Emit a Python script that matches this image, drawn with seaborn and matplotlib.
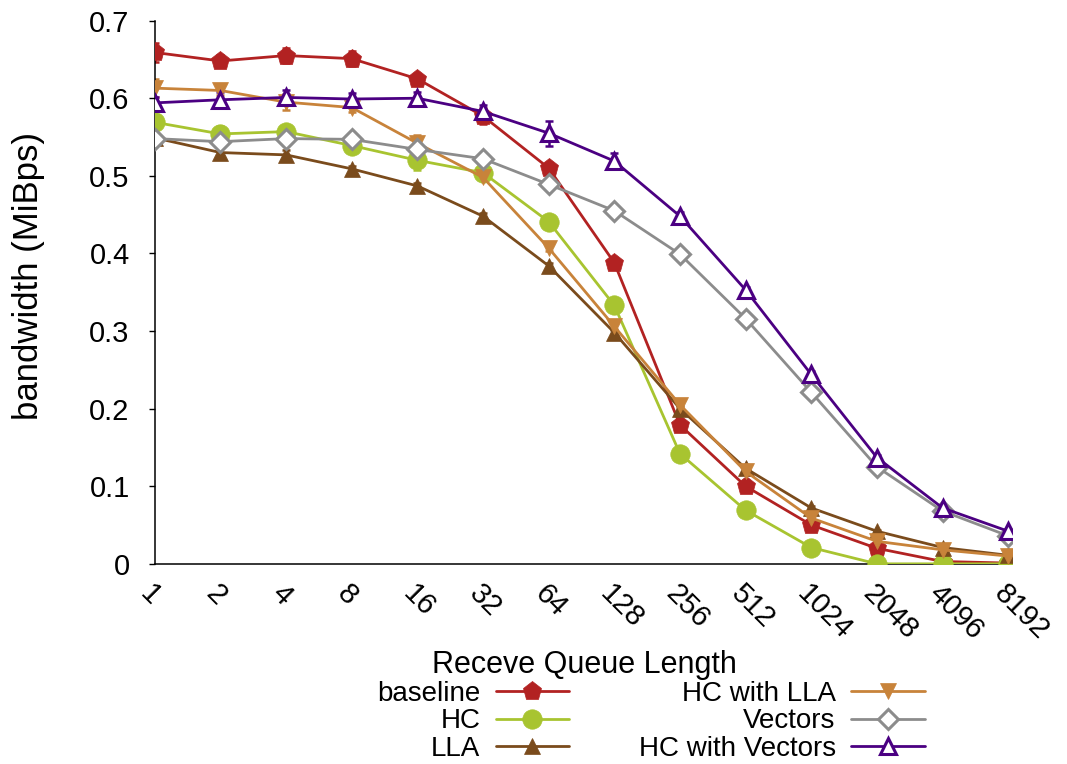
import numpy as np
import pandas as pd
import matplotlib
matplotlib.use("Agg")
import matplotlib.pyplot as plt
import seaborn as sns

# ==========================================
# Data
# ==========================================
queue_labels = ["1", "2", "4", "8", "16", "32", "64", "128",
                "256", "512", "1024", "2048", "4096", "8192"]

baseline = [0.659, 0.648, 0.655, 0.651, 0.625, 0.577, 0.510, 0.388,
            0.179, 0.100, 0.050, 0.020, 0.003, 0.001]
hc = [0.569, 0.554, 0.557, 0.539, 0.520, 0.504, 0.441, 0.333,
      0.142, 0.069, 0.021, 0.000, 0.000, 0.000]
lla = [0.549, 0.530, 0.527, 0.509, 0.487, 0.448, 0.384, 0.298,
       0.200, 0.123, 0.072, 0.042, 0.021, 0.011]
hc_lla = [0.613, 0.610, 0.595, 0.588, 0.542, 0.498, 0.407, 0.306,
          0.205, 0.119, 0.059, 0.029, 0.018, 0.010]
vectors = [0.548, 0.544, 0.548, 0.547, 0.534, 0.522, 0.489, 0.455,
           0.399, 0.316, 0.221, 0.125, 0.068, 0.036]
hc_vectors = [0.594, 0.598, 0.601, 0.599, 0.600, 0.583, 0.555, 0.519,
              0.448, 0.353, 0.244, 0.137, 0.072, 0.042]

# small error bars
baseline_err = [0.012, 0.008, 0.010, 0.010, 0.006, 0.010, 0.006, 0.004,
                0.004, 0.003, 0.002, 0.002, 0.001, 0.001]
hc_err = [0.006, 0.010, 0.008, 0.010, 0.012, 0.004, 0.004, 0.004,
          0.003, 0.002, 0.002, 0.000, 0.000, 0.000]
lla_err = [0.004, 0.006, 0.006, 0.004, 0.004, 0.004, 0.004, 0.003,
           0.003, 0.002, 0.002, 0.001, 0.001, 0.001]
hc_lla_err = [0.012, 0.006, 0.010, 0.006, 0.010, 0.004, 0.004, 0.004,
              0.003, 0.002, 0.002, 0.001, 0.001, 0.001]
vectors_err = [0.004, 0.006, 0.008, 0.006, 0.006, 0.004, 0.004, 0.004,
               0.003, 0.003, 0.002, 0.002, 0.001, 0.001]
hc_vectors_err = [0.008, 0.010, 0.010, 0.008, 0.008, 0.008, 0.016, 0.010,
                  0.006, 0.004, 0.004, 0.003, 0.002, 0.002]

series_names = ["baseline", "HC", "LLA", "HC with LLA", "Vectors", "HC with Vectors"]
series_values = [baseline, hc, lla, hc_lla, vectors, hc_vectors]
series_errors = [baseline_err, hc_err, lla_err, hc_lla_err, vectors_err, hc_vectors_err]

colors = ["#B22222", "#A8C430", "#7A4B1C", "#C8833A", "#8C8C8C", "#4B0082"]
markers = ["p", "o", "^", "v", "D", "^"]
filled = [True, True, True, True, False, False]
msizes = [14, 14, 12, 12, 10, 12]

# ==========================================
# Long-form table
# ==========================================
rows = []
for name, vals, errs in zip(series_names, series_values, series_errors):
    for i, (v, e) in enumerate(zip(vals, errs)):
        rows.append({"series": name, "pos": i, "queue": queue_labels[i],
                     "bandwidth": v, "err": e})
df = pd.DataFrame(rows)

# ==========================================
# Plot
# ==========================================
sns.set_theme(style="white")
plt.rcParams["font.family"] = ["Liberation Sans", "DejaVu Sans"]
plt.rcParams["text.color"] = "black"
plt.rcParams["axes.labelcolor"] = "black"
plt.rcParams["xtick.color"] = "black"
plt.rcParams["ytick.color"] = "black"

fig = plt.figure(figsize=(10.67, 7.64), dpi=100)
ax = fig.add_axes([0.145, 0.262, 0.803, 0.711])

handles = []
for name, col, mk, fl, ms in zip(series_names, colors, markers, filled, msizes):
    sub = df[df["series"] == name]
    ax.errorbar(sub["pos"], sub["bandwidth"], yerr=sub["err"], fmt="none",
                ecolor=col, elinewidth=1.8, capsize=3, capthick=1.8, zorder=2)
    sns.lineplot(data=sub, x="pos", y="bandwidth", ax=ax, color=col,
                 linewidth=2, marker=mk, markersize=ms,
                 markerfacecolor=col if fl else "white",
                 markeredgecolor=col, markeredgewidth=2.2 if not fl else 0.5,
                 label=name, legend=False, zorder=3)
    handles.append(ax.lines[-1])

ax.set_xlim(0, 13.05)
ax.set_ylim(0, 0.7)
ax.set_yticks(np.arange(0, 0.71, 0.1))
ax.set_yticklabels(["0", "0.1", "0.2", "0.3", "0.4", "0.5", "0.6", "0.7"])
ax.set_xticks(range(len(queue_labels)))
ax.set_xticklabels(queue_labels, rotation=-45, ha="left", va="top",
                   rotation_mode="anchor")

for s in ["top", "right"]:
    ax.spines[s].set_visible(False)
for s in ["left", "bottom"]:
    ax.spines[s].set_color("black")
    ax.spines[s].set_linewidth(1.1)

ax.tick_params(axis="y", which="both", direction="out", length=4, width=1,
               color="black", labelsize=21, pad=14, left=True)
ax.tick_params(axis="x", which="both", direction="out", length=0,
               labelsize=21, pad=11, bottom=True)

ax.set_ylabel("bandwidth (MiBps)", fontsize=25)
ax.yaxis.set_label_coords(-0.128, 0.53)
ax.set_xlabel("Receve Queue Length", fontsize=22)
ax.xaxis.set_label_coords(0.501, -0.158)

leg = ax.legend(handles, series_names,
                ncol=2, loc="upper center", bbox_to_anchor=(0.579, -0.19),
                frameon=False, fontsize=20, markerfirst=False,
                handlelength=2.65, handletextpad=0.55, labelspacing=0.05,
                columnspacing=2.5, borderpad=0.0)

fig.savefig("out.png", dpi=100)
